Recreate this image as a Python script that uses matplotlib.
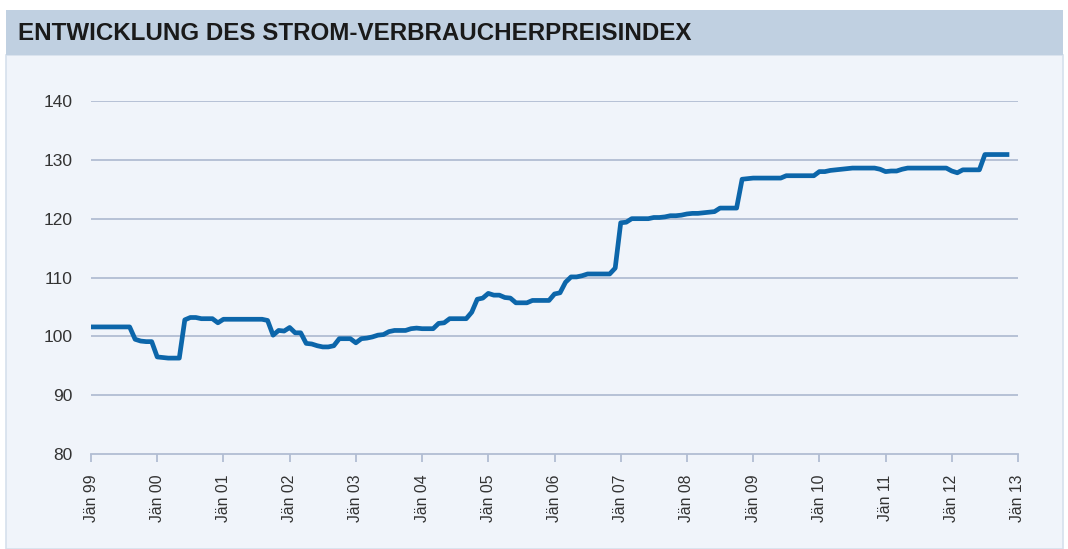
import matplotlib
matplotlib.use("Agg")
import matplotlib.pyplot as plt
from matplotlib.patches import Rectangle
import numpy as np

title = "ENTWICKLUNG DES STROM-VERBRAUCHERPREISINDEX"
start_year = 1999
tick_labels = ["Jän 99", "Jän 00", "Jän 01", "Jän 02", "Jän 03", "Jän 04", "Jän 05",
               "Jän 06", "Jän 07", "Jän 08", "Jän 09", "Jän 10", "Jän 11", "Jän 12", "Jän 13"]
y_ticks = [80, 90, 100, 110, 120, 130, 140]

# monthly index values, Jan 1999 .. Nov 2012
v1999 = [101.6, 101.6, 101.6, 101.6, 101.6, 101.6, 101.6, 101.6, 99.5, 99.2, 99.1, 99.1]
v2000 = [96.5, 96.4, 96.3, 96.3, 96.3, 102.8, 103.2, 103.2, 103.0, 103.0, 103.0, 102.3]
v2001 = [102.9, 102.9, 102.9, 102.9, 102.9, 102.9, 102.9, 102.9, 102.7, 100.2, 101.0, 100.9]
v2002 = [101.5, 100.6, 100.6, 98.8, 98.7, 98.4, 98.2, 98.2, 98.4, 99.6, 99.6, 99.6]
v2003 = [98.9, 99.6, 99.7, 99.9, 100.2, 100.3, 100.8, 101.0, 101.0, 101.0, 101.3, 101.4]
v2004 = [101.3, 101.3, 101.3, 102.2, 102.3, 103.0, 103.0, 103.0, 103.0, 104.1, 106.3, 106.5]
v2005 = [107.3, 107.0, 107.0, 106.6, 106.5, 105.7, 105.7, 105.7, 106.1, 106.1, 106.1, 106.1]
v2006 = [107.2, 107.4, 109.2, 110.1, 110.1, 110.3, 110.6, 110.6, 110.6, 110.6, 110.6, 111.6]
v2007 = [119.3, 119.4, 120.0, 120.0, 120.0, 120.0, 120.2, 120.2, 120.3, 120.5, 120.5, 120.6]
v2008 = [120.8, 120.9, 120.9, 121.0, 121.1, 121.2, 121.8, 121.8, 121.8, 121.8, 126.7, 126.8]
v2009 = [126.9, 126.9, 126.9, 126.9, 126.9, 126.9, 127.3, 127.3, 127.3, 127.3, 127.3, 127.3]
v2010 = [128.0, 128.0, 128.2, 128.3, 128.4, 128.5, 128.6, 128.6, 128.6, 128.6, 128.6, 128.4]
v2011 = [128.0, 128.1, 128.1, 128.4, 128.6, 128.6, 128.6, 128.6, 128.6, 128.6, 128.6, 128.6]
v2012 = [128.1, 127.8, 128.3, 128.3, 128.3, 128.3, 130.9, 130.9, 130.9, 130.9, 130.9]

values = (v1999 + v2000 + v2001 + v2002 + v2003 + v2004 + v2005 + v2006 +
          v2007 + v2008 + v2009 + v2010 + v2011 + v2012)
months = np.arange(len(values))

W, H = 1068, 549
fig = plt.figure(figsize=(W / 100, H / 100), dpi=100)
fig.patch.set_facecolor("white")

# panel background and title bar
fig.add_artist(Rectangle((6 / W, 0), (1063 - 6) / W, 1 - 55 / H, transform=fig.transFigure,
                         facecolor="#F0F4FA", edgecolor="#D6E0EC", linewidth=1.2, zorder=0))
fig.add_artist(Rectangle((6 / W, 1 - 55 / H), (1063 - 6) / W, 45 / H, transform=fig.transFigure,
                         facecolor="#C0D0E1", edgecolor="none", zorder=0))
fig.text(18 / W, 1 - 34 / H, title, ha="left", va="center", fontsize=17.4,
         fontweight="bold", color="#1A1A1A", family=["Liberation Sans", "DejaVu Sans"])

ax = fig.add_axes([91 / W, 1 - 454 / H, 927 / W, 353 / H])
ax.set_facecolor("none")
ax.plot(months, values, color="#0C66AA", linewidth=3.4, solid_joinstyle="round", zorder=3)

ax.set_ylim(80, 140)
ax.set_xlim(0, 168)
ax.set_yticks(y_ticks)
ax.set_xticks(np.arange(0, 169, 12))
ax.set_xticklabels(tick_labels, rotation=90)

grid_c = "#B1BDD3"
for yv in y_ticks[1:]:
    ax.axhline(yv, color=grid_c, linewidth=1.3, zorder=1)
for s in ["top", "right", "left"]:
    ax.spines[s].set_visible(False)
ax.spines["bottom"].set_color(grid_c)
ax.spines["bottom"].set_linewidth(1.3)
ax.tick_params(axis="y", length=0, pad=13, labelsize=12.5, labelcolor="#333333")
ax.tick_params(axis="x", length=6, width=1.3, color=grid_c, pad=9, labelsize=11.3, labelcolor="#333333")
for lab in ax.get_xticklabels() + ax.get_yticklabels():
    lab.set_family(["Liberation Sans", "DejaVu Sans"])

fig.savefig("out.png", dpi=100)
